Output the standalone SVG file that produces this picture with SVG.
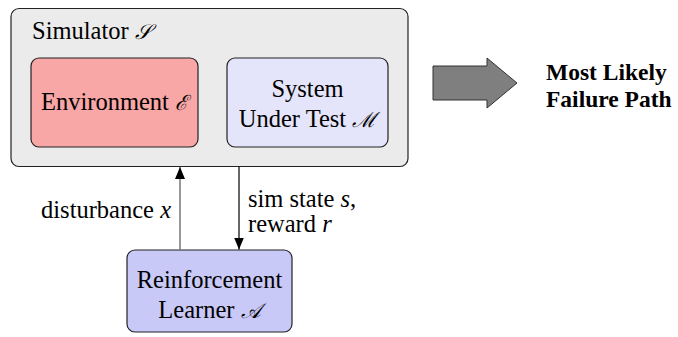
<svg xmlns="http://www.w3.org/2000/svg" width="678" height="337" viewBox="0 0 678 337">
<style>
.t{font-family:'Liberation Serif','Times New Roman',serif;font-size:24.5px;fill:#000}
.box{stroke:#222;stroke-width:1.2}
.b{font-weight:bold;font-size:23.5px}
.m{font-family:'DejaVu Serif',serif;font-style:italic;font-size:21px}
.i{font-style:italic}
</style>
<defs>
<marker id="ah" viewBox="0 0 12 10" refX="12" refY="5" markerWidth="12" markerHeight="10" markerUnits="userSpaceOnUse" orient="auto">
<path d="M0,0 L12,5 L0,10 z" fill="#000"/>
</marker>
</defs>
<g id="simulator">
<rect class="box" x="11" y="8.5" width="397" height="158" rx="8" fill="#ebebeb"/>
<text class="t" x="32" y="39">Simulator <tspan class="m">𝒮</tspan></text>
</g>
<g id="environment">
<rect class="box" x="31" y="58" width="167" height="89" rx="8" fill="#f9a6a6"/>
<text class="t" x="114.5" y="110" text-anchor="middle">Environment <tspan class="m">ℰ</tspan></text>
</g>
<g id="sut">
<rect class="box" x="227" y="58" width="161" height="89" rx="8" fill="#e4e4fa"/>
<text class="t" x="307.5" y="97" text-anchor="middle">System</text>
<text class="t" x="307.5" y="127" text-anchor="middle">Under Test <tspan class="m">ℳ</tspan></text>
</g>
<g id="learner">
<rect class="box" x="127" y="250" width="165" height="82" rx="8" fill="#c9c9f8"/>
<text class="t" x="209.5" y="288" text-anchor="middle">Reinforcement</text>
<text class="t" x="209.5" y="318" text-anchor="middle">Learner <tspan class="m">𝒜</tspan></text>
</g>
<g id="output">
<path d="M433,66 H487 V58 L517,83 L487,108 V100 H433 Z" fill="#7f7f7f" stroke="#333" stroke-width="1"/>
<text class="t b" x="546" y="80">Most Likely</text>
<text class="t b" x="546" y="107">Failure Path</text>
</g>
<g id="connectors">
<line x1="180" y1="250" x2="180" y2="167" stroke="#777" stroke-width="1.5" marker-end="url(#ah)"/>
<line x1="239" y1="166.5" x2="239" y2="249.5" stroke="#000" stroke-width="1.2" marker-end="url(#ah)"/>
<text class="t" x="171" y="218" text-anchor="end">disturbance <tspan class="i">x</tspan></text>
<text class="t" x="248" y="207">sim state <tspan class="i">s</tspan>,</text>
<text class="t" x="248" y="232">reward <tspan class="i">r</tspan></text>
</g>
</svg>
